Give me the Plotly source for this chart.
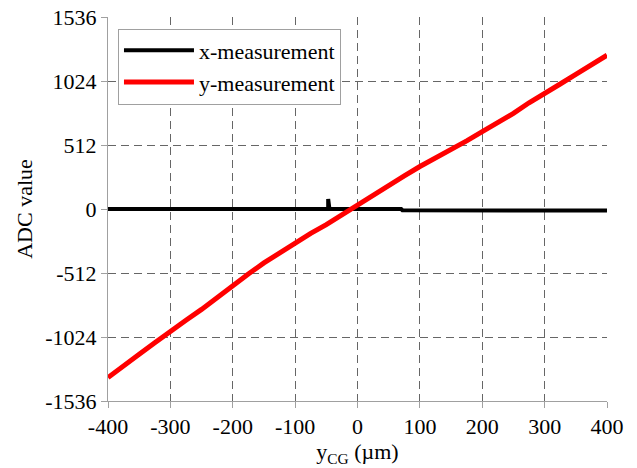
import plotly.graph_objects as go

# y-measurement (red) readings
y_pos = [-400, -375, -350, -325, -300, -275, -250, -225, -200, -175, -150, -125,
         -100, -75, -50, -25, 0, 25, 50, 75, 100, 125, 150, 175, 200, 225, 250,
         275, 300, 325, 350, 375, 400]
y_meas = [-1348, -1250, -1162, -1070, -976, -890, -803, -705, -612, -520, -431, -350,
          -271, -195, -125, -45, 30, 110, 188, 265, 340, 405, 473, 545, 619, 690, 765,
          850, 930, 1000, 1077, 1150, 1230]

# x-measurement (black) readings
x_pos = [-400, -300, -200, -145, -140, -100, -60, -50, -47, -47, -45, 0, 70, 72,
         150, 205, 207, 300, 400]
x_meas = [0, 0, 0, 0, -8, -8, -8, 0, 0, 80, 0, 0, 0, -10, -10, -10, -12, -12, -12]

x_ticks = [-400, -300, -200, -100, 0, 100, 200, 300, 400]
x_labels = ["-400", "-300", "-200", "-100", "0", "100", "200", "300", "400"]
y_ticks = [-1536, -1024, -512, 0, 512, 1024, 1536]
y_labels = ["-1536", "-1024", "-512", "0", "512", "1024", "1536"]

FONT = "Liberation Serif"
FS = 22

fig = go.Figure()
fig.add_trace(go.Scatter(x=x_pos, y=x_meas, mode="lines", name="x-measurement",
                         line=dict(color="black", width=4)))
fig.add_trace(go.Scatter(x=y_pos, y=y_meas, mode="lines", name="y-measurement",
                         line=dict(color="#ff0000", width=5)))

axis_common = dict(
    showgrid=True, gridcolor="#666666", gridwidth=1, griddash="8px,5px",
    zeroline=False, showline=True, linecolor="#a0a0a0", linewidth=1,
    ticks="outside", ticklen=6, tickcolor="#a0a0a0",
    tickfont=dict(family=FONT, size=FS, color="black"),
    mirror=False, automargin=False,
)

fig.update_xaxes(range=[-400, 400], tickvals=x_ticks, ticktext=x_labels,
                 title=dict(text="y<sub>CG</sub> (µm)", font=dict(family=FONT, size=FS, color="black"), standoff=4),
                 **axis_common)
fig.update_yaxes(range=[-1536, 1536], tickvals=y_ticks, ticktext=y_labels,
                 title=dict(text="ADC value", font=dict(family=FONT, size=FS, color="black"), standoff=6),
                 **axis_common)

fig.update_layout(
    width=637, height=468,
    margin=dict(l=108, r=30, t=17, b=67),
    paper_bgcolor="white", plot_bgcolor="white",
    font=dict(family=FONT, size=FS, color="black"),
    showlegend=True,
    legend=dict(x=0.02, y=0.97, xanchor="left", yanchor="top",
                bgcolor="white", bordercolor="#a0a0a0", borderwidth=1,
                font=dict(family=FONT, size=FS, color="black"),
                itemwidth=70),
)

fig.write_html("out.html", config={"displayModeBar": False},
               post_script="document.body.style.margin='0';document.body.style.padding='0';")
